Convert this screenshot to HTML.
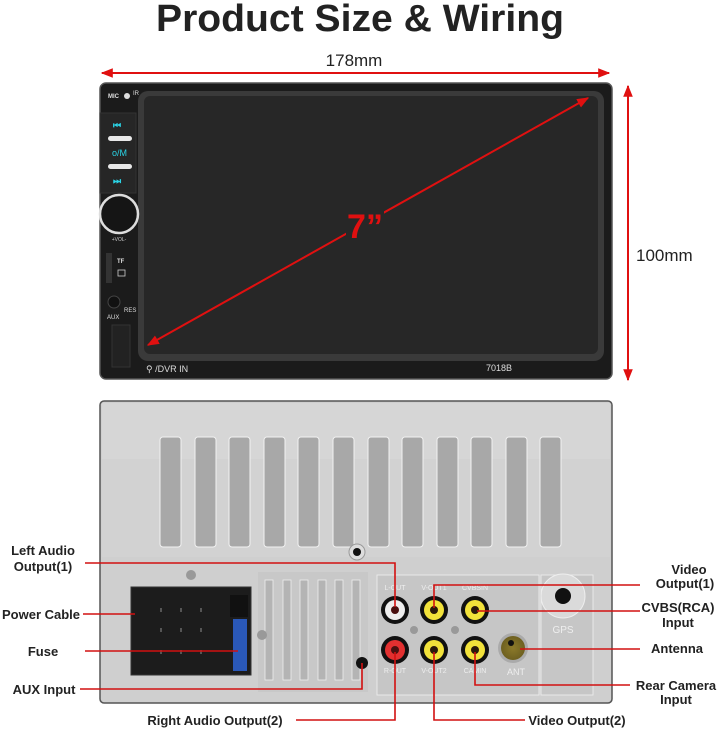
<!DOCTYPE html>
<html><head><meta charset="utf-8"><style>
html,body{margin:0;padding:0;background:#fff}
svg{display:block}
text{font-family:"Liberation Sans",sans-serif}
</style></head><body>
<svg width="720" height="731" viewBox="0 0 720 731" xmlns="http://www.w3.org/2000/svg">
<defs>
<marker id="ah" viewBox="0 0 10 10" refX="9" refY="5" markerWidth="6" markerHeight="6" orient="auto-start-reverse"><path d="M0,1 L10,5 L0,9 z" fill="#e01010"/></marker>
<radialGradient id="ant" cx="0.5" cy="0.5" r="0.5"><stop offset="0" stop-color="#8c7a2a"/><stop offset="1" stop-color="#6e6020"/></radialGradient>
</defs>
<text x="360" y="31" text-anchor="middle" font-size="38" font-weight="bold" fill="#222" textLength="408" lengthAdjust="spacingAndGlyphs">Product Size &amp; Wiring</text>
<!-- width dimension -->
<line x1="102" y1="73" x2="609" y2="73" stroke="#e01010" stroke-width="2" marker-start="url(#ah)" marker-end="url(#ah)"/>
<text x="354" y="66" text-anchor="middle" font-size="17" fill="#222">178mm</text>
<!-- height dimension -->
<line x1="628" y1="86" x2="628" y2="380" stroke="#e01010" stroke-width="2" marker-start="url(#ah)" marker-end="url(#ah)"/>
<text x="636" y="261" font-size="17" fill="#222">100mm</text>
<!-- front unit -->
<rect x="100" y="83" width="512" height="296" rx="6" fill="#1b1b1b" stroke="#555" stroke-width="1.5"/>
<rect x="138" y="91" width="466" height="270" rx="10" fill="#3a3a3a"/>
<rect x="144" y="96" width="454" height="258" rx="6" fill="#272727"/>
<!-- left panel -->
<rect x="100" y="113" width="36" height="80" fill="#262626" stroke="#333"/>
<text x="113" y="128" font-size="9" fill="#2ad4e6" font-weight="bold">⏮</text>
<rect x="108" y="136" width="24" height="5" rx="2.5" fill="#e8e8e8"/>
<text x="112" y="156" font-size="9" fill="#2ad4e6">o/M</text>
<rect x="108" y="164" width="24" height="5" rx="2.5" fill="#e8e8e8"/>
<text x="113" y="184" font-size="9" fill="#2ad4e6" font-weight="bold">⏭</text>
<circle cx="119" cy="214" r="19" fill="#151515" stroke="#ddd" stroke-width="2.5"/>
<text x="119" y="241" text-anchor="middle" font-size="5" fill="#ccc">+VOL-</text>
<rect x="106" y="253" width="6" height="30" fill="#333"/>
<text x="117" y="263" font-size="6" fill="#ddd" font-weight="bold">TF</text>
<rect x="118" y="270" width="7" height="6" fill="none" stroke="#ccc" stroke-width="0.8"/>
<circle cx="114" cy="302" r="6" fill="#111" stroke="#444"/>
<text x="124" y="312" font-size="6" fill="#ddd">RES</text>
<text x="107" y="319" font-size="6" fill="#ddd">AUX</text>
<rect x="112" y="325" width="18" height="42" fill="#222" stroke="#333"/>
<text x="108" y="98" font-size="6" fill="#ddd" font-weight="bold">MIC</text>
<circle cx="127" cy="96" r="3" fill="#ddd"/>
<text x="133" y="95" font-size="6" fill="#ddd">IR</text>
<text x="146" y="372" font-size="9" fill="#ddd">⚲ /DVR IN</text>
<text x="486" y="371" font-size="9" fill="#ddd">7018B</text>
<!-- diagonal -->
<line x1="588" y1="98" x2="148" y2="345" stroke="#e01010" stroke-width="2" marker-start="url(#ah)" marker-end="url(#ah)"/>
<rect x="346" y="205" width="38" height="36" fill="#272727"/>
<text x="365" y="238" text-anchor="middle" font-size="34" font-weight="bold" fill="#e01010">7”</text>
<!-- back unit -->
<rect x="100" y="401" width="512" height="302" rx="4" fill="#cfcfcf" stroke="#555" stroke-width="1.5"/>
<rect x="102" y="403" width="508" height="56" fill="#d6d6d6"/>
<rect x="102" y="459" width="508" height="98" fill="#d2d2d2"/>
<g fill="#a8a8a8" stroke="#f2f2f2" stroke-width="1">
<rect x="160" y="437" width="21" height="110" rx="3"/><rect x="195" y="437" width="21" height="110" rx="3"/><rect x="229" y="437" width="21" height="110" rx="3"/><rect x="264" y="437" width="21" height="110" rx="3"/><rect x="298" y="437" width="21" height="110" rx="3"/><rect x="333" y="437" width="21" height="110" rx="3"/><rect x="368" y="437" width="21" height="110" rx="3"/><rect x="402" y="437" width="21" height="110" rx="3"/><rect x="437" y="437" width="21" height="110" rx="3"/><rect x="471" y="437" width="21" height="110" rx="3"/><rect x="506" y="437" width="21" height="110" rx="3"/><rect x="540" y="437" width="21" height="110" rx="3"/>
</g>
<circle cx="357" cy="552" r="8" fill="#ddd" stroke="#999"/><circle cx="357" cy="552" r="4" fill="#111"/>
<!-- lower vent area -->
<rect x="258" y="572" width="110" height="120" fill="#c8c8c8"/>
<g fill="#b4b4b4" stroke="#eee" stroke-width="0.8">
<rect x="265" y="580" width="8" height="100"/><rect x="283" y="580" width="8" height="100"/><rect x="300" y="580" width="8" height="100"/><rect x="318" y="580" width="8" height="100"/><rect x="335" y="580" width="8" height="100"/><rect x="352" y="580" width="8" height="100"/>
</g>
<rect x="377" y="575" width="162" height="120" fill="#c6c6c6" stroke="#e8e8e8"/>
<rect x="541" y="575" width="52" height="120" fill="#c6c6c6" stroke="#e8e8e8"/>
<circle cx="563" cy="596" r="22" fill="#dadada" stroke="#eee"/><circle cx="563" cy="596" r="8" fill="#111"/>
<text x="563" y="633" text-anchor="middle" font-size="10" fill="#eee">GPS</text>
<text x="516" y="675" text-anchor="middle" font-size="9" fill="#eee">ANT</text>
<circle cx="513" cy="648" r="15" fill="#aaa"/><circle cx="513" cy="648" r="12" fill="url(#ant)"/><circle cx="511" cy="643" r="3" fill="#111"/>
<g font-size="7" fill="#eee" text-anchor="middle"><text x="395" y="590">L-OUT</text><text x="434" y="590">V-OUT1</text><text x="475" y="590">CVBSIN</text><text x="395" y="673">R-OUT</text><text x="434" y="673">V-OUT2</text><text x="475" y="673">CAMIN</text></g>
<g>
<circle cx="395" cy="610" r="14" fill="#111"/><circle cx="395" cy="610" r="10" fill="#eee"/><circle cx="395" cy="610" r="4" fill="#4a1010"/>
<circle cx="434" cy="610" r="14" fill="#111"/><circle cx="434" cy="610" r="10" fill="#f2e23a"/><circle cx="434" cy="610" r="4" fill="#2a1a0a"/>
<circle cx="475" cy="610" r="14" fill="#111"/><circle cx="475" cy="610" r="10" fill="#f2e23a"/><circle cx="475" cy="610" r="4" fill="#2a1a0a"/>
<circle cx="395" cy="650" r="14" fill="#111"/><circle cx="395" cy="650" r="10" fill="#e23030"/><circle cx="395" cy="650" r="4" fill="#4a1010"/>
<circle cx="434" cy="650" r="14" fill="#111"/><circle cx="434" cy="650" r="10" fill="#f2e23a"/><circle cx="434" cy="650" r="4" fill="#2a1a0a"/>
<circle cx="475" cy="650" r="14" fill="#111"/><circle cx="475" cy="650" r="10" fill="#f2e23a"/><circle cx="475" cy="650" r="4" fill="#2a1a0a"/>
<circle cx="414" cy="630" r="4" fill="#999"/><circle cx="455" cy="630" r="4" fill="#999"/>
</g>
<!-- connector -->
<rect x="131" y="587" width="120" height="88" fill="#1c1c1c" stroke="#333"/>
<rect x="230" y="595" width="18" height="22" fill="#111"/>
<rect x="233" y="619" width="14" height="52" fill="#2a58b8"/>
<g fill="#555"><rect x="160" y="608" width="2" height="4"/><rect x="180" y="608" width="2" height="4"/><rect x="200" y="608" width="2" height="4"/><rect x="160" y="628" width="2" height="4"/><rect x="180" y="628" width="2" height="4"/><rect x="200" y="628" width="2" height="4"/><rect x="160" y="650" width="2" height="4"/><rect x="180" y="650" width="2" height="4"/><rect x="200" y="650" width="2" height="4"/></g>
<circle cx="191" cy="575" r="5" fill="#999"/><circle cx="262" cy="635" r="5" fill="#999"/>
<circle cx="362" cy="663" r="6" fill="#111"/>
<!-- leader lines -->
<g stroke="#d21010" stroke-width="1.6" fill="none">
<polyline points="85,563 395,563 395,607"/>
<line x1="83" y1="614" x2="135" y2="614"/>
<line x1="85" y1="651" x2="238" y2="651"/>
<polyline points="80,689 362,689 362,663"/>
<polyline points="296,720 395,720 395,652"/>
<polyline points="434,608 434,585 640,585"/>
<line x1="477" y1="611" x2="640" y2="611"/>
<line x1="520" y1="649" x2="640" y2="649"/>
<polyline points="475,652 475,685 630,685"/>
<polyline points="434,652 434,720 525,720"/>
</g>
<g font-size="13" font-weight="bold" fill="#222" text-anchor="middle">
<text x="43" y="555">Left Audio</text><text x="43" y="571">Output(1)</text>
<text x="41" y="619">Power Cable</text>
<text x="43" y="656">Fuse</text>
<text x="44" y="694">AUX Input</text>
<text x="215" y="725">Right Audio Output(2)</text>
<text x="577" y="725">Video Output(2)</text>
<text x="689" y="574">Video</text><text x="685" y="588">Output(1)</text>
<text x="678" y="612">CVBS(RCA)</text><text x="678" y="627">Input</text>
<text x="677" y="653">Antenna</text>
<text x="676" y="690">Rear Camera</text><text x="676" y="704">Input</text>
</g>
</svg>
</body></html>
